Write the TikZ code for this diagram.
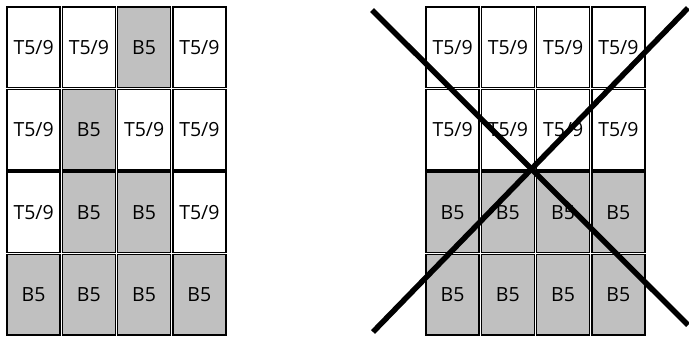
\documentclass[tikz,border=0pt]{standalone}
\usepackage{fontspec}
\setmainfont{Open Sans}
\definecolor{cellgray}{HTML}{C0C0C0}
\tikzset{
  cell/.style={draw=black, line width=1.3pt, minimum width=53pt, minimum height=80.5pt,
    inner sep=0pt, font=\fontsize{19.5}{22}\selectfont, anchor=center},
  wcell/.style={cell, fill=white},
  gcell/.style={cell, fill=cellgray},
  cross/.style={line width=5.5pt, black}
}
\begin{document}
\begin{tikzpicture}[x=1pt,y=-1pt]
\useasboundingbox (0,0) rectangle (689,338);
\def\lx{6}\def\rx{425}\def\cw{55.25}\def\rh{82.5}\def\ty{6}
% left grid
\foreach \lab/\sty [count=\i from 0] in {
  {T5/9}/wcell, {T5/9}/wcell, B5/gcell, {T5/9}/wcell,
  {T5/9}/wcell, B5/gcell, {T5/9}/wcell, {T5/9}/wcell,
  {T5/9}/wcell, B5/gcell, B5/gcell, {T5/9}/wcell,
  B5/gcell, B5/gcell, B5/gcell, B5/gcell}{
  \pgfmathtruncatemacro\col{mod(\i,4)}
  \pgfmathtruncatemacro\row{div(\i,4)}
  \node[\sty] (L\i) at ({\lx+\cw*(\col+0.5)},{\ty+\rh*(\row+0.5)}) {\lab};
}
% right grid
\foreach \lab/\sty [count=\i from 0] in {
  {T5/9}/wcell, {T5/9}/wcell, {T5/9}/wcell, {T5/9}/wcell,
  {T5/9}/wcell, {T5/9}/wcell, {T5/9}/wcell, {T5/9}/wcell,
  B5/gcell, B5/gcell, B5/gcell, B5/gcell,
  B5/gcell, B5/gcell, B5/gcell, B5/gcell}{
  \pgfmathtruncatemacro\col{mod(\i,4)}
  \pgfmathtruncatemacro\row{div(\i,4)}
  \node[\sty] (R\i) at ({\rx+\cw*(\col+0.5)},{\ty+\rh*(\row+0.5)}) {\lab};
}
% cross
\coordinate (xa) at (372,10);
\coordinate (xb) at (688,325);
\coordinate (xc) at (373,332);
\coordinate (xd) at (688,8);
\draw[cross] (xa) -- (xb);
\draw[cross] (xc) -- (xd);
\end{tikzpicture}
\end{document}
